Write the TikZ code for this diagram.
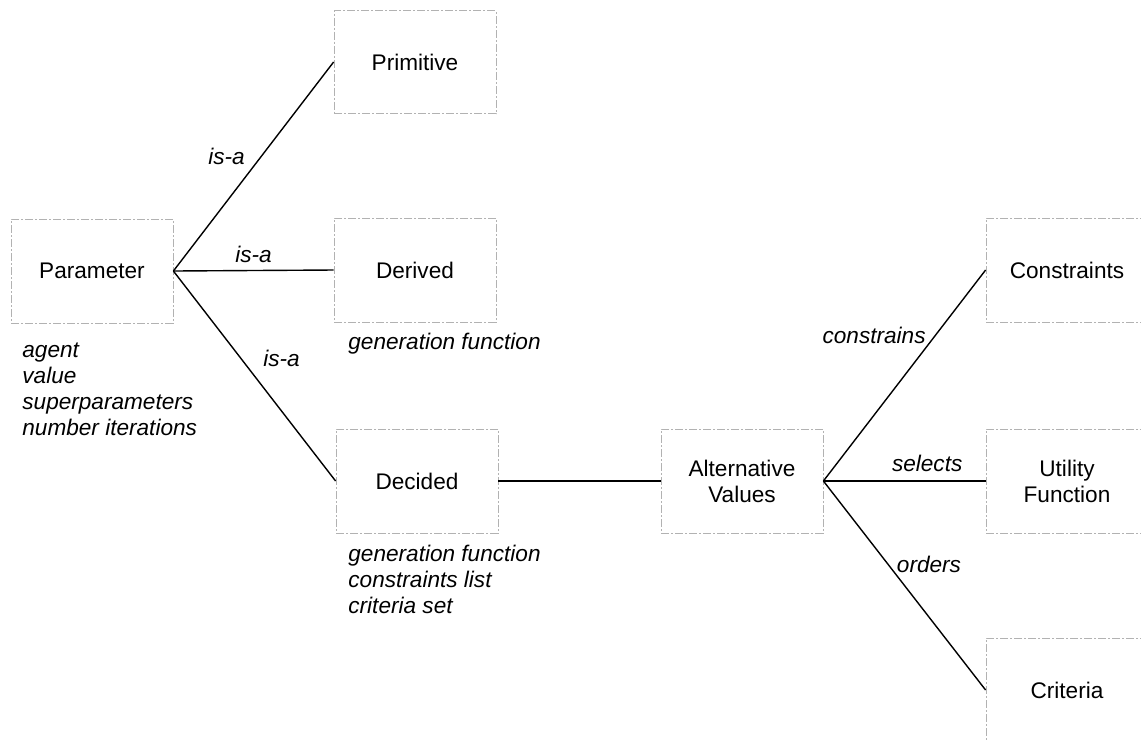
\documentclass[tikz,border=0pt]{standalone}
\usepackage{fontspec}
\setmainfont{Liberation Sans}
\usepackage{tikz}

\begin{document}
\begin{tikzpicture}[x=0.5pt, y=-0.5pt,
    every node/.style={font=\fontsize{11.3}{13}\selectfont},
    entity/.style={draw=gray!60, line width=0.4pt, dash pattern=on 4pt off 1pt on 1pt off 1pt,
        minimum width=81pt, minimum height=52pt, align=center, inner sep=0pt},
    link/.style={line width=0.7pt},
    rel/.style={font=\fontsize{11.3}{13}\selectfont\itshape, inner sep=0pt},
    attr/.style={font=\fontsize{11.3}{13}\selectfont\itshape, align=left, inner sep=0pt, anchor=base west}]

    % Fix the page size
    \useasboundingbox (0,0) rectangle (1141,741);

    % Draw the boxes
    \node[entity] (param) at (92,271) {Parameter};
    \node[entity, minimum height=51.5pt] (prim) at (415,62) {Primitive};
    \node[entity] (derived) at (415,270) {Derived};
    \node[entity] (decided) at (417,481) {Decided};
    \node[entity] (altval) at (742,481) {Alternative\\Values};
    \node[entity] (constr) at (1067,270) {Constraints};
    \node[entity] (util) at (1067,481) {Utility\\Function};
    \node[entity] (crit) at (1067,690) {Criteria};

    % Draw the relations
    \draw[link] (param.east) -- (prim.west) node[rel, pos=0.55, left=8pt] {is-a};
    \draw[link] (param.east) -- (derived.west) node[rel, midway, above=3.5pt] {is-a};
    \draw[link] (param.east) -- (decided.west) node[rel, pos=0.414, right=11pt] {is-a};
    \draw[link] (decided.east) -- (altval.west);
    \draw[link] (altval.east) -- (constr.west) node[rel, pos=0.69, left=4.5pt] {constrains};
    \draw[link] (altval.east) -- (util.west) node[rel, pos=0.64, above=4.5pt] {selects};
    \draw[link] (altval.east) -- (crit.west) node[rel, pos=0.4, right=4pt] {orders};

    % Attributes under the boxes (base = last line)
    \node[attr] (paramattr) at (22,435) {agent\\value\\superparameters\\number iterations};
    \node[attr] (derivedattr) at (348,349) {generation function};
    \node[attr] (decidedattr) at (348,613) {generation function\\constraints list\\criteria set};

\end{tikzpicture}
\end{document}
